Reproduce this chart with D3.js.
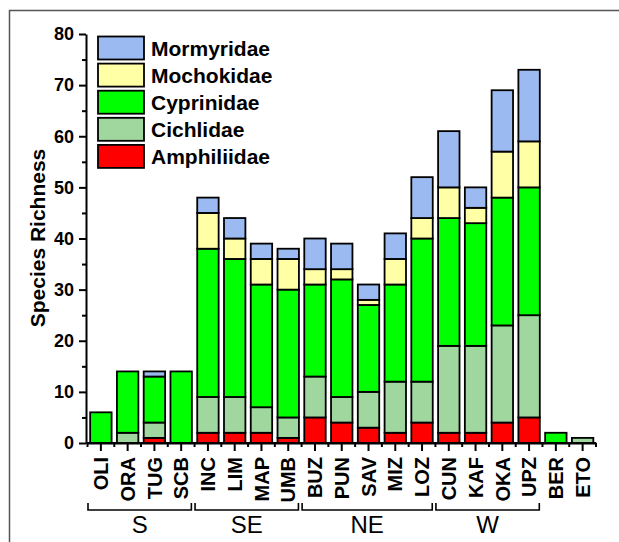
<!DOCTYPE html>
<html>
<head>
<meta charset="utf-8">
<script src="https://cdn.jsdelivr.net/npm/d3@7"></script>
<style>
    html, body { margin: 0; padding: 0; background: #fff; }
    svg { display: block; font-family: 'Liberation Sans', Arial, sans-serif; }
    .axis path, .axis line { stroke: #000; stroke-width: 2; }
    .axis text { font-weight: bold; font-size: 18px; fill: #000; }
</style>
</head>
<body>
<svg width="619" height="542"></svg>
<script>
// DATA
const sites = ['OLI', 'ORA', 'TUG', 'SCB', 'INC', 'LIM', 'MAP', 'UMB', 'BUZ', 'PUN', 'SAV', 'MIZ', 'LOZ', 'CUN', 'KAF', 'OKA', 'UPZ', 'BER', 'ETO'];
const families = ['Amphiliidae', 'Cichlidae', 'Cyprinidae', 'Mochokidae', 'Mormyridae'];
const amphiliidae = [0, 0, 1, 0, 2, 2, 2, 1, 5, 4, 3, 2, 4, 2, 2, 4, 5, 0, 0];
const cichlidae   = [0, 2, 3, 0, 7, 7, 5, 4, 8, 5, 7, 10, 8, 17, 17, 19, 20, 0, 1];
const cyprinidae  = [6, 12, 9, 14, 29, 27, 24, 25, 18, 23, 17, 19, 28, 25, 24, 25, 25, 2, 0];
const mochokidae  = [0, 0, 0, 0, 7, 4, 5, 6, 3, 2, 1, 5, 4, 6, 3, 9, 9, 0, 0];
const mormyridae  = [0, 0, 1, 0, 3, 4, 3, 2, 6, 5, 3, 5, 8, 11, 4, 12, 14, 0, 0];
const regions = [
    { name: 'S',  from: 'OLI', to: 'SCB' },
    { name: 'SE', from: 'INC', to: 'UMB' },
    { name: 'NE', from: 'BUZ', to: 'LOZ' },
    { name: 'W',  from: 'CUN', to: 'UPZ' },
];
const yTicks = [0, 10, 20, 30, 40, 50, 60, 70, 80];
const yMinorTicks = [5, 15, 25, 35, 45, 55, 65, 75];

const colors = {
    Amphiliidae: '#ff0000',
    Cichlidae:   '#9fd79f',
    Cyprinidae:  '#00ff00',
    Mochokidae:  '#ffffa6',
    Mormyridae:  '#9bbaf1',
};

const rows = sites.map((s, i) => ({
    site: s,
    Amphiliidae: amphiliidae[i],
    Cichlidae: cichlidae[i],
    Cyprinidae: cyprinidae[i],
    Mochokidae: mochokidae[i],
    Mormyridae: mormyridae[i],
}));

const svg = d3.select('svg');

// FRAME
svg.append('path')
    .attr('d', 'M9.5,542 V10.5 H619')
    .attr('fill', 'none')
    .attr('stroke', '#555')
    .attr('stroke-width', 1.5);

// SCALES
const x = d3.scaleBand().domain(sites).range([87.5, 596]).paddingInner(0.2).paddingOuter(0.1);
const y = d3.scaleLinear().domain([0, 80]).range([443, 34]);
const gap = x.step() - x.bandwidth();

// BARS
const series = d3.stack().keys(families)(rows);

svg.append('g')
    .selectAll('g')
    .data(series)
    .join('g')
    .attr('fill', d => colors[d.key])
    .selectAll('rect')
    .data(d => d.filter(v => v[1] - v[0] > 0))
    .join('rect')
    .attr('x', d => x(d.data.site))
    .attr('y', d => y(d[1]))
    .attr('width', x.bandwidth())
    .attr('height', d => y(d[0]) - y(d[1]))
    .attr('stroke', '#000')
    .attr('stroke-width', 1.8);

// AXIS Y
svg.append('g')
    .attr('class', 'axis')
    .attr('transform', 'translate(86,0)')
    .call(d3.axisLeft(y).tickValues(yMinorTicks).tickSize(4).tickSizeOuter(0).tickFormat(''));

svg.append('g')
    .attr('class', 'axis')
    .attr('transform', 'translate(86,0)')
    .call(d3.axisLeft(y).tickValues(yTicks).tickSize(7).tickSizeOuter(0).tickPadding(5))
    .call(g => g.select('.domain').remove());

// AXIS X
const gAxisX = svg.append('g')
    .attr('class', 'axis')
    .attr('transform', 'translate(0,443)')
    .call(d3.axisBottom(x).tickSize(8).tickSizeOuter(0).tickFormat(''));

gAxisX.append('path')
    .attr('stroke', '#000')
    .attr('stroke-width', 2)
    .attr('d', 'M86,0 H' + x.range()[1]);

gAxisX.selectAll('.minor')
    .data(sites.concat(['_end']))
    .join('line')
    .attr('class', 'minor')
    .attr('x1', (d, i) => i < sites.length ? x(d) - gap / 2 : x(sites[sites.length - 1]) + x.bandwidth() + gap / 2)
    .attr('x2', (d, i) => i < sites.length ? x(d) - gap / 2 : x(sites[sites.length - 1]) + x.bandwidth() + gap / 2)
    .attr('y1', 0)
    .attr('y2', 4);

svg.append('g')
    .selectAll('text')
    .data(sites)
    .join('text')
    .attr('transform', d => 'translate(' + (x(d) + x.bandwidth() / 2) + ',457) rotate(-90)')
    .attr('text-anchor', 'end')
    .attr('dy', '0.36em')
    .attr('font-weight', 'bold')
    .attr('font-size', 20)
    .text(d => d);

// REGION BRACKETS
const gRegions = svg.append('g');

gRegions.selectAll('path')
    .data(regions)
    .join('path')
    .attr('fill', 'none')
    .attr('stroke', '#000')
    .attr('stroke-width', 1.6)
    .attr('d', r => {
        const x0 = x(r.from) - gap / 2 + 0.5;
        const x1 = x(r.to) + x.bandwidth() - 0.5;
        return 'M' + x0 + ',503 V510 H' + x1 + ' V503';
    });

gRegions.selectAll('text')
    .data(regions)
    .join('text')
    .attr('x', r => (x(r.from) - gap / 2 + x(r.to) + x.bandwidth()) / 2)
    .attr('y', 533)
    .attr('text-anchor', 'middle')
    .attr('font-size', 24)
    .text(r => r.name);

// Y TITLE
svg.append('text')
    .attr('transform', 'translate(45,238) rotate(-90)')
    .attr('text-anchor', 'middle')
    .attr('font-weight', 'bold')
    .attr('font-size', 21)
    .text('Species Richness');

// LEGEND
const legend = svg.append('g')
    .selectAll('g')
    .data(families.slice().reverse())
    .join('g')
    .attr('transform', (d, i) => 'translate(98,' + (36.5 + i * 27.1) + ')');

legend.append('rect')
    .attr('width', 46)
    .attr('height', 23)
    .attr('fill', d => colors[d])
    .attr('stroke', '#000')
    .attr('stroke-width', 1.8);

legend.append('text')
    .attr('x', 53)
    .attr('y', 11.5)
    .attr('dy', '0.36em')
    .attr('font-weight', 'bold')
    .attr('font-size', 21)
    .text(d => d);
</script>
</body>
</html>
